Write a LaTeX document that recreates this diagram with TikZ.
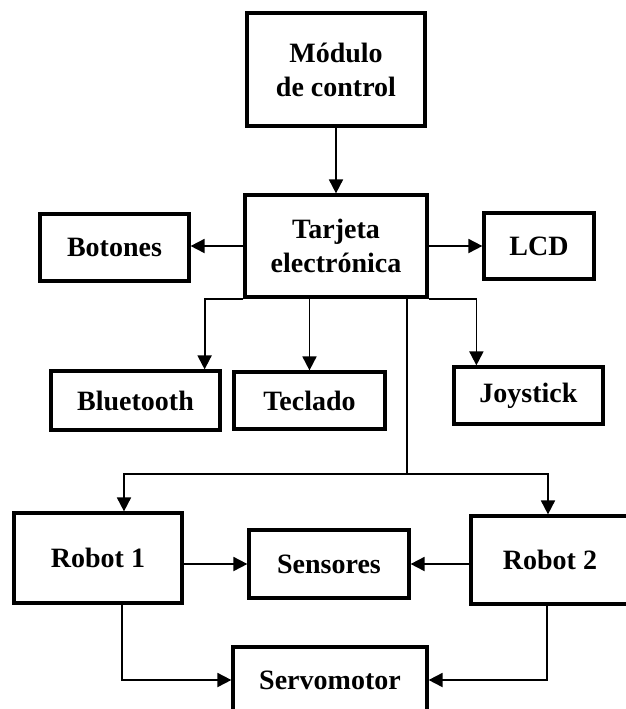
\documentclass[tikz,border=0pt]{standalone}
\usepackage{fontspec}
\setmainfont{Liberation Serif}
\usetikzlibrary{arrows.meta}
\begin{document}
\begin{tikzpicture}[x=0.5pt,y=-0.5pt,
	caja/.style={draw,line width=1.6pt,align=center,inner sep=0pt,font=\bfseries\fontsize{14}{17}\selectfont},
	flecha/.style={line width=0.9pt,-{Triangle[length=7pt,width=7pt]}}]
	\useasboundingbox (0,0) rectangle (626,709);
	\node[caja,minimum width=89pt,minimum height=56.5pt] (modulo) at (336,69.5) {Módulo\\de control};
	\node[caja,minimum width=91pt,minimum height=51pt] (tarjeta) at (336,246) {Tarjeta\\electrónica};
	\node[caja,minimum width=74.5pt,minimum height=33.5pt] (botones) at (114.5,247.5) {Botones};
	\node[caja,minimum width=55pt,minimum height=33pt] (lcd) at (539,246) {LCD};
	\node[caja,minimum width=84.5pt,minimum height=29.5pt] (bluetooth) at (135.5,400.5) {Bluetooth};
	\node[caja,minimum width=75.5pt,minimum height=28.5pt] (teclado) at (309.5,400.5) {Teclado};
	\node[caja,minimum width=74.5pt,minimum height=28.5pt] (joystick) at (528.5,395.5) {Joystick};
	\node[caja,minimum width=84pt,minimum height=45pt] (robot1) at (98,558) {Robot 1};
	\node[caja,minimum width=79pt,minimum height=44pt] (robot2) at (550,560) {Robot 2};
	\node[caja,minimum width=80pt,minimum height=34pt] (sensores) at (329,564) {Sensores};
	\node[caja,minimum width=97pt,minimum height=33pt] (servo) at (330,680) {Servomotor};
	\draw[flecha] (modulo) -- (tarjeta);
	\draw[flecha] (tarjeta.west) -- (tarjeta.west -| botones.east);
	\draw[flecha] (tarjeta.east) -- (tarjeta.east -| lcd.west);
	\draw[flecha] (tarjeta.south west) -| ([xshift=-8.5pt]bluetooth.north east);
	\draw[flecha] (teclado.north |- tarjeta.south) -- (teclado.north);
	\draw[flecha] (tarjeta.south east) -| ([xshift=12pt]joystick.north west);
	\path ([xshift=-11pt]tarjeta.south east) ++(0,175) coordinate (reparto);
	\draw[line width=0.9pt] ([xshift=-11pt]tarjeta.south east) -- (reparto);
	\draw[flecha] (reparto) -| ([xshift=13pt]robot1.north);
	\draw[flecha] (reparto) -| ([xshift=-1pt]robot2.north);
	\draw[flecha] (robot1.east |- sensores) -- (sensores.west);
	\draw[flecha] (robot2.west |- sensores) -- (sensores.east);
	\draw[flecha] ([xshift=12pt]robot1.south) |- (servo.west);
	\draw[flecha] ([xshift=-1.5pt]robot2.south) |- (servo.east);
\end{tikzpicture}
\end{document}
